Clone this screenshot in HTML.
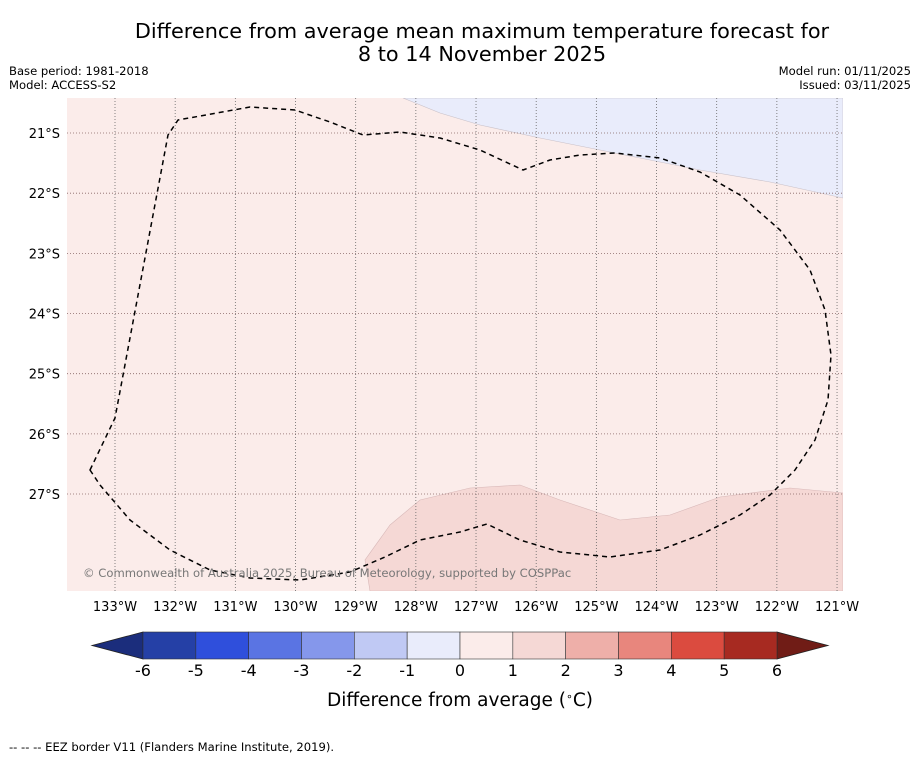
<!DOCTYPE html>
<html><head><meta charset="utf-8"><style>
body{margin:0;background:#fff;font-family:"DejaVu Sans","Liberation Sans",sans-serif;}
svg{display:block}
</style></head><body>
<svg width="919" height="758">
<text x="482" y="38" text-anchor="middle" font-size="20.8" font-family="DejaVu Sans">Difference from average mean maximum temperature forecast for</text>
<text x="482" y="61" text-anchor="middle" font-size="20.8" font-family="DejaVu Sans">8 to 14 November 2025</text>
<text x="9" y="75" font-size="11.6">Base period: 1981-2018</text>
<text x="9" y="89" font-size="11.6">Model: ACCESS-S2</text>
<text x="911" y="75" font-size="11.6" text-anchor="end">Model run: 01/11/2025</text>
<text x="911" y="89" font-size="11.6" text-anchor="end">Issued: 03/11/2025</text>
<defs><clipPath id="mc"><rect x="67" y="98" width="776" height="493"/></clipPath></defs>
<g clip-path="url(#mc)">
<rect x="67" y="98" width="776" height="493" fill="#fbecea"/>
<polygon points="403,98 440,113 480,125 540,138 600,150 700,170 770,182 843,198 843,98" fill="#e9ecfb" stroke="#c8c0c8" stroke-width="0.6"/>
<polygon points="370,591 365,560 390,525 420,500 470,488 520,485 560,500 620,520 670,515 720,497 790,488 843,493 843,591" fill="#f5d8d5" stroke="#d8b8b8" stroke-width="0.6"/>
<g id="grid"></g>
<path d="M90,470 L115,418 L168,135 L178,120 L250,107 L295,110 L330,122 L363,135 L400,132 L440,138 L480,150 L523,170 L550,160 L580,155 L615,153 L660,158 L700,172 L740,195 L780,230 L810,270 L825,310 L831,355 L828,400 L815,440 L795,470 L770,495 L740,515 L700,535 L660,550 L610,557 L560,552 L520,540 L487,524 L460,532 L420,540 L385,557 L350,572 L300,580 L250,578 L210,570 L170,550 L130,520 L100,485 Z" fill="none" stroke="#000" stroke-width="1.5" stroke-dasharray="5,4" stroke-linejoin="round"/>
<text x="83" y="577" font-size="11.6" fill="#777">© Commonwealth of Australia 2025, Bureau of Meteorology, supported by COSPPac</text>
</g>
<g id="axes"></g>
<g id="cbar"></g>
<text x="460" y="706" text-anchor="middle" font-size="18.5">Difference from average (<tspan baseline-shift="super" font-size="11">∘</tspan>C)</text>
<text x="9" y="751" font-size="11.6">--  --  -- EEZ border V11 (Flanders Marine Institute, 2019).</text>
</svg>
<script>
const lonTicks=[133,132,131,130,129,128,127,126,125,124,123,122,121];
const latTicks=[21,22,23,24,25,26,27];
const cbLevels=[-6,-5,-4,-3,-2,-1,0,1,2,3,4,5,6];
const cbColors=["#2540a6","#2f4fdc","#5a74e3","#8597eb","#c0c9f4","#e9ecfb","#fbecea","#f5d8d5","#eeafa9","#e8867d","#db4b3f","#a72a21"];
const underColor="#1b2d7c", overColor="#701c16";
const NS="http://www.w3.org/2000/svg";
const xLon=l=>115+(133-l)*60.17;
const yLat=l=>133+(l-21)*60.17;
const grid=document.getElementById('grid'), axes=document.getElementById('axes'), cb=document.getElementById('cbar');
function mk(tag,at,parent){const e=document.createElementNS(NS,tag);for(const k in at)e.setAttribute(k,at[k]);parent.appendChild(e);return e;}
lonTicks.forEach(l=>{
 const x=xLon(l);
 const g=mk('line',{x1:x,x2:x,y1:98,y2:591,stroke:'#666','stroke-width':0.8,'stroke-dasharray':'1,2'},grid);
 
 
 const t=mk('text',{x:x,y:611,'text-anchor':'middle','font-size':13},axes);
 t.textContent=l+'°W';
 
 
});
latTicks.forEach(l=>{
 const y=yLat(l);
 const g=mk('line',{x1:67,x2:843,y1:y,y2:y,stroke:'#866','stroke-width':0.8,'stroke-dasharray':'1,2'},grid);
 
 
 const t=mk('text',{x:60,y:y+5,'text-anchor':'end','font-size':13},axes);
 t.textContent=l+'°S';
 
 
});
const cx0=143,cx1=777,cy=632,ch=27;
const cxs=v=>cx0+(v-cbLevels[0])/(cbLevels[cbLevels.length-1]-cbLevels[0])*(cx1-cx0);
const u=mk('polygon',{points:`${cx0},${cy} 92,${cy+ch/2} ${cx0},${cy+ch}`,fill:underColor,stroke:'#222','stroke-width':0.8},cb);


const o=mk('polygon',{points:`${cx1},${cy} 828,${cy+ch/2} ${cx1},${cy+ch}`,fill:overColor,stroke:'#222','stroke-width':0.8},cb);


cbColors.forEach((c,i)=>{
 const x=cxs(cbLevels[i]), w=cxs(cbLevels[i+1])-x;
 const r=mk('rect',{x:x,y:cy,width:w,height:ch,fill:c,stroke:'#333','stroke-width':0.6},cb);
 
 
});
cbLevels.forEach(v=>{
 const t=mk('text',{x:cxs(v),y:676,'text-anchor':'middle','font-size':16},cb);
 t.textContent=v;
 
 
});
</script>
</body></html>
